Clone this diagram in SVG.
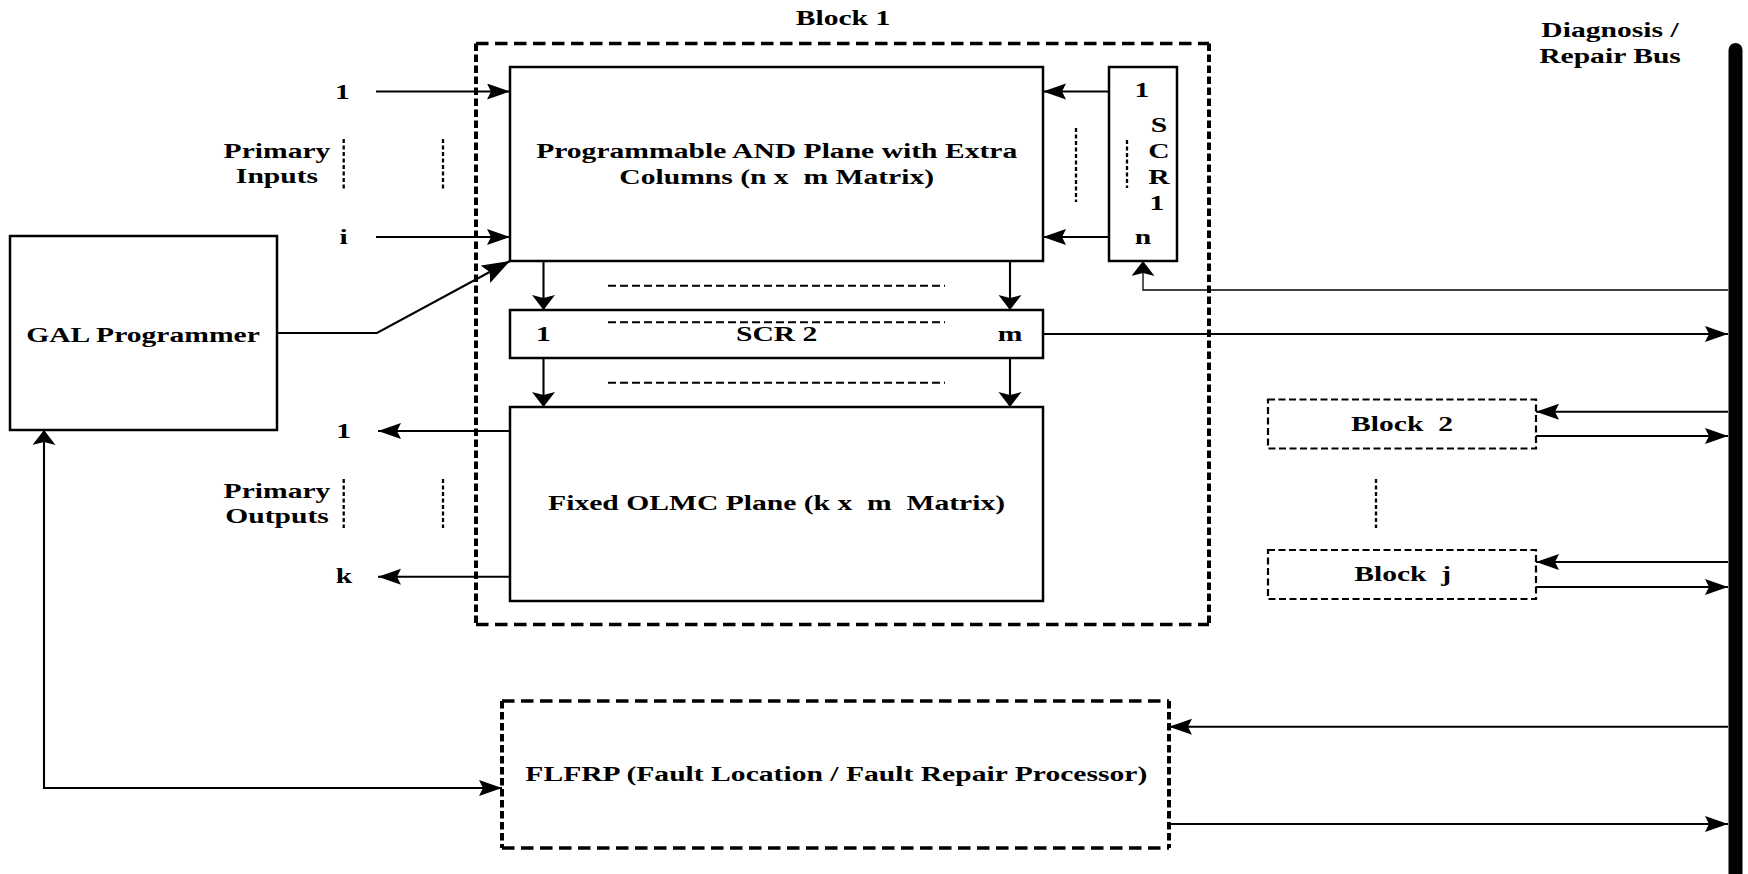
<svg xmlns="http://www.w3.org/2000/svg" width="1748" height="874" viewBox="0 0 1748 874">
<defs>
<style>
.t{font-family:"Liberation Serif","Times New Roman",serif;font-weight:bold;font-size:21px;text-anchor:middle;white-space:pre;fill:#000}
.box{fill:#fff;stroke:#000;stroke-width:2.5}
.ln{fill:none;stroke:#000;stroke-width:2.1}
.thin{fill:none;stroke:#000;stroke-width:1.3}
.dot{fill:none;stroke:#000;stroke-width:2.3;stroke-dasharray:4 2.5}
.hd{fill:none;stroke:#000;stroke-width:2;stroke-dasharray:8 4}
.dh{fill:none;stroke:#000;stroke-width:3.3;stroke-dasharray:12.5 6.5}
.dv{fill:none;stroke:#000;stroke-width:4;stroke-dasharray:7.5 3.5}
.sd{fill:#fff;stroke:#000;stroke-width:2.2;stroke-dasharray:7 3.5}
</style>
<marker id="ah" markerUnits="userSpaceOnUse" markerWidth="25" markerHeight="18" refX="23" refY="8" orient="auto-start-reverse"><path d="M0,0 L23,8 L0,16 L4,8 Z" fill="#000"/></marker>
<marker id="av" markerUnits="userSpaceOnUse" markerWidth="17" markerHeight="24" refX="15" refY="11.5" orient="auto-start-reverse"><path d="M0,0 L15,11.5 L0,23 L3,11.5 Z" fill="#000"/></marker>
<marker id="ad" markerUnits="userSpaceOnUse" markerWidth="30" markerHeight="22" refX="28" refY="10" orient="auto"><path d="M0,0 L28,10 L0,20 L5,10 Z" fill="#000"/></marker>
</defs>
<rect width="1748" height="874" fill="#fff"/>

<g id="block1">
<line class="dh" x1="476" y1="43.5" x2="1209" y2="43.5"/>
<line class="dh" x1="476" y1="624.5" x2="1209" y2="624.5"/>
<line class="dv" x1="476" y1="43.5" x2="476" y2="624.5"/>
<line class="dv" x1="1209" y1="43.5" x2="1209" y2="624.5"/>
<text class="t" transform="translate(843,25) scale(1.41,1)">Block 1</text>
</g>

<g id="bus">
<line x1="1735.5" y1="50" x2="1735.5" y2="890" stroke="#000" stroke-width="14" stroke-linecap="round"/>
<text class="t" transform="translate(1610,37) scale(1.41,1)">Diagnosis /</text>
<text class="t" transform="translate(1610,63) scale(1.41,1)">Repair Bus</text>
</g>

<g id="and-plane">
<rect class="box" x="510" y="67" width="533" height="194"/>
<text class="t" transform="translate(776.7,158) scale(1.41,1)">Programmable AND Plane with Extra</text>
<text class="t" transform="translate(776.7,183.5) scale(1.41,1)">Columns (n x  m Matrix)</text>
</g>

<g id="scr1">
<rect class="box" x="1109" y="67" width="68" height="194"/>
<text class="t" transform="translate(1142,97) scale(1.41,1)">1</text>
<text class="t" transform="translate(1159,132) scale(1.41,1)">S</text>
<text class="t" transform="translate(1159,158) scale(1.41,1)">C</text>
<text class="t" transform="translate(1159,184) scale(1.41,1)">R</text>
<text class="t" transform="translate(1157,210) scale(1.41,1)">1</text>
<text class="t" transform="translate(1143,244) scale(1.41,1)">n</text>
<line class="dot" x1="1127" y1="140" x2="1127" y2="188"/>
</g>

<g id="scr2">
<rect class="box" x="510" y="310" width="533" height="48"/>
<text class="t" transform="translate(543.5,341) scale(1.41,1)">1</text>
<text class="t" transform="translate(776.7,341) scale(1.41,1)">SCR 2</text>
<text class="t" transform="translate(1010,341) scale(1.41,1)">m</text>
</g>

<g id="olmc-plane">
<rect class="box" x="510" y="407" width="533" height="194"/>
<text class="t" transform="translate(776.6,510) scale(1.41,1)">Fixed OLMC Plane (k x  m  Matrix)</text>
</g>

<g id="gal-programmer">
<rect class="box" x="10" y="236" width="267" height="194"/>
<text class="t" transform="translate(143,341.5) scale(1.41,1)">GAL Programmer</text>
</g>

<g id="primary-inputs">
<text class="t" transform="translate(277,158) scale(1.41,1)">Primary</text>
<text class="t" transform="translate(277,183) scale(1.41,1)">Inputs</text>
<text class="t" transform="translate(342.5,98.5) scale(1.41,1)">1</text>
<text class="t" transform="translate(343.5,244) scale(1.41,1)">i</text>
<line class="dot" x1="343.7" y1="139" x2="343.7" y2="189"/>
<line class="dot" x1="443" y1="139" x2="443" y2="189"/>
</g>

<g id="primary-outputs">
<text class="t" transform="translate(277,498) scale(1.41,1)">Primary</text>
<text class="t" transform="translate(277,523) scale(1.41,1)">Outputs</text>
<text class="t" transform="translate(343.7,438) scale(1.41,1)">1</text>
<text class="t" transform="translate(344,583) scale(1.41,1)">k</text>
<line class="dot" x1="343.7" y1="479" x2="343.7" y2="528"/>
<line class="dot" x1="443" y1="479" x2="443" y2="528"/>
</g>

<g id="block2">
<rect class="sd" x="1268" y="399.5" width="268" height="49"/>
<text class="t" transform="translate(1402,431) scale(1.41,1)">Block  2</text>
</g>

<g id="blockj">
<rect class="sd" x="1268" y="550" width="268" height="49"/>
<text class="t" transform="translate(1402.7,581) scale(1.41,1)">Block  j</text>
</g>

<g id="flfrp">
<rect x="502" y="701" width="667" height="147" fill="#fff"/>
<line class="dh" x1="502" y1="701" x2="1169" y2="701"/>
<line class="dh" x1="502" y1="848" x2="1169" y2="848"/>
<line class="dv" x1="502" y1="701" x2="502" y2="848"/>
<line class="dv" x1="1169" y1="701" x2="1169" y2="848"/>
<text class="t" transform="translate(836.3,781) scale(1.41,1)">FLFRP (Fault Location / Fault Repair Processor)</text>
</g>

<g id="ellipsis">
<line class="dot" x1="1076" y1="128" x2="1076" y2="202"/>
<line class="dot" x1="1376" y1="479" x2="1376" y2="528"/>
<line class="hd" x1="608" y1="285.7" x2="945" y2="285.7"/>
<line class="hd" x1="608" y1="322.3" x2="945" y2="322.3"/>
<line class="hd" x1="608" y1="382.7" x2="945" y2="382.7"/>
</g>

<g id="connectors">
<path class="ln" d="M376,91.5 L510,91.5" marker-end="url(#ah)"/>
<path class="ln" d="M376,237 L510,237" marker-end="url(#ah)"/>
<path class="ln" d="M277,333 L377,333 L510,261" marker-end="url(#ad)"/>
<path class="ln" d="M1109,91.5 L1043,91.5" marker-end="url(#ah)"/>
<path class="ln" d="M1109,237 L1043,237" marker-end="url(#ah)"/>
<path class="ln" d="M543.5,261 L543.5,310" marker-end="url(#av)"/>
<path class="ln" d="M1010,261 L1010,310" marker-end="url(#av)"/>
<path class="ln" d="M543.5,358 L543.5,407" marker-end="url(#av)"/>
<path class="ln" d="M1010,358 L1010,407" marker-end="url(#av)"/>
<path class="ln" d="M1043,334 L1728,334" marker-end="url(#ah)"/>
<path class="thin" d="M1728,290 L1143,290 L1143,261" marker-end="url(#av)"/>
<path class="ln" d="M510,431 L378,431" marker-end="url(#ah)"/>
<path class="ln" d="M510,576.7 L378,576.7" marker-end="url(#ah)"/>
<path class="ln" d="M1728,411.7 L1536,411.7" marker-end="url(#ah)"/>
<path class="ln" d="M1536,436 L1728,436" marker-end="url(#ah)"/>
<path class="ln" d="M1728,562 L1536,562" marker-end="url(#ah)"/>
<path class="ln" d="M1536,587 L1728,587" marker-end="url(#ah)"/>
<path class="ln" d="M1728,726.7 L1169,726.7" marker-end="url(#ah)"/>
<path class="ln" d="M1169,824 L1728,824" marker-end="url(#ah)"/>
<path class="ln" d="M44,430 L44,788 L502,788" marker-start="url(#av)" marker-end="url(#ah)"/>
</g>
</svg>
